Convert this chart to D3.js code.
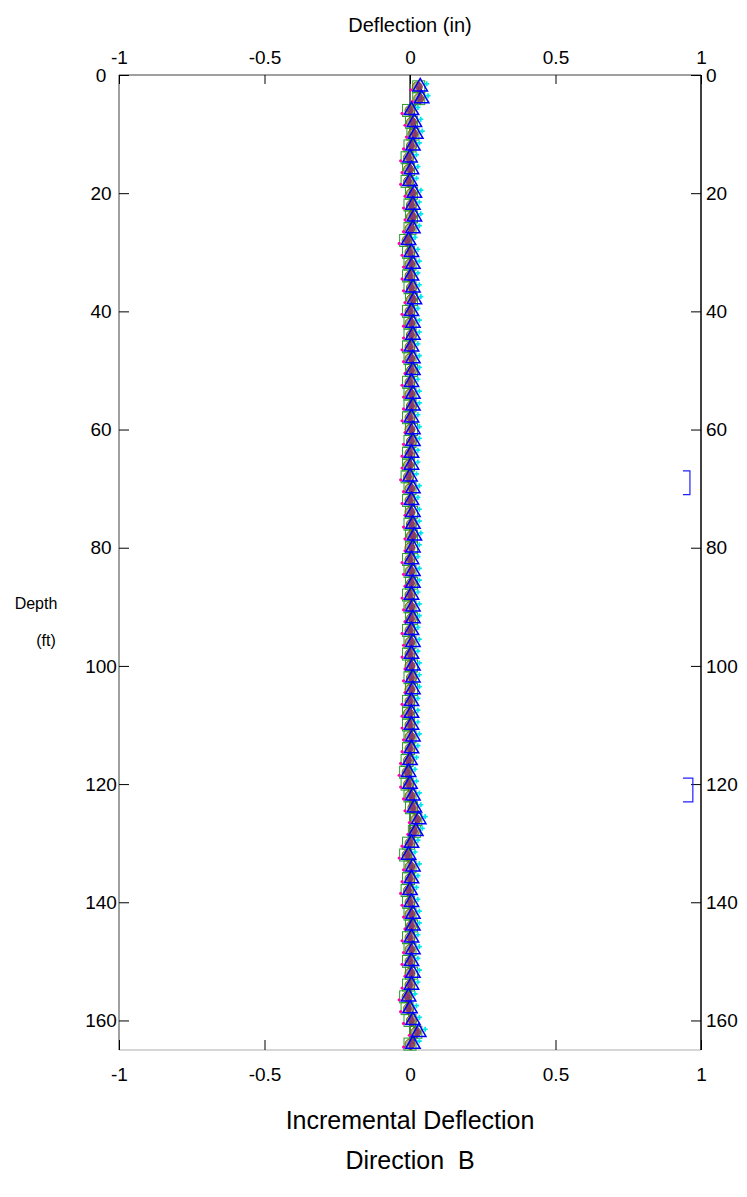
<!DOCTYPE html>
<html><head><meta charset="utf-8">
<script src="https://cdn.jsdelivr.net/npm/d3@7"></script>
<style>
body{margin:0;background:#fff;}
text{font-family:"Liberation Sans",Arial,sans-serif;fill:#000;white-space:pre;}
</style></head>
<body><svg id="c" width="747" height="1197"></svg>
<script>
const depths = d3.range(2, 165, 2); // 2..164 ft
const xTicks = [-1, -0.5, 0, 0.5, 1];
const yTicks = [0, 20, 40, 60, 80, 100, 120, 140, 160];
const xTickLabels = ["-1", "-0.5", "0", "0.5", "1"];

const serTriangle = [
 0.035,0.040,0.005,0.015,0.020,0.010,0.000,0.005,0.000,0.015,
 0.010,0.015,0.010,-0.005,0.005,0.010,0.005,0.010,0.015,0.005,
 0.010,0.010,0.005,0.010,0.010,0.005,0.010,0.010,0.005,0.010,
 0.010,0.005,0.005,0.000,0.010,0.005,0.010,0.010,0.015,0.010,
 0.005,0.010,0.010,0.005,0.010,0.010,0.005,0.010,0.005,0.010,
 0.010,0.010,0.005,0.005,0.005,0.010,0.005,0.000,-0.005,0.000,
 0.010,0.015,0.030,0.020,0.005,-0.005,0.010,0.005,0.000,0.005,
 0.010,0.010,0.005,0.010,0.005,0.010,0.005,-0.005,0.000,0.010,
 0.030,0.010];
const serSquare = [
 0.030,0.030,-0.005,0.005,0.010,0.000,-0.010,-0.005,-0.010,0.005,
 0.000,0.005,0.000,-0.015,-0.005,0.000,-0.005,0.000,0.005,-0.005,
 0.000,0.000,-0.005,0.000,0.005,-0.005,0.000,0.000,-0.005,0.005,
 0.000,-0.005,-0.005,-0.010,0.000,-0.005,0.005,0.000,0.005,0.005,
 -0.005,0.000,0.005,-0.005,0.000,0.005,-0.005,0.000,-0.005,0.005,
 0.000,0.005,-0.005,-0.005,-0.005,0.000,-0.005,-0.010,-0.015,-0.010,
 0.000,0.005,0.020,0.015,-0.005,-0.015,0.000,-0.005,-0.010,-0.005,
 0.000,0.005,-0.005,0.000,-0.005,0.005,-0.005,-0.015,-0.010,0.000,
 0.020,0.000];
const serMaroon = [
 0.030,0.035,0.000,0.010,0.015,0.005,-0.005,0.000,-0.005,0.010,
 0.005,0.010,0.005,-0.010,0.000,0.005,0.000,0.005,0.010,0.000,
 0.005,0.005,0.000,0.005,0.005,0.000,0.005,0.005,0.000,0.005,
 0.005,0.000,0.000,-0.005,0.005,0.000,0.005,0.005,0.010,0.005,
 0.000,0.005,0.005,0.000,0.005,0.005,0.000,0.005,0.000,0.005,
 0.005,0.005,0.000,0.000,0.000,0.005,0.000,-0.005,-0.010,-0.005,
 0.005,0.010,0.025,0.015,0.000,-0.010,0.005,0.000,-0.005,0.000,
 0.005,0.005,0.000,0.005,0.000,0.005,0.000,-0.010,-0.005,0.005,
 0.025,0.005];
const serOlive = [
 0.025,0.030,0.000,0.005,0.010,0.005,-0.005,-0.005,-0.005,0.005,
 0.005,0.005,0.000,-0.010,0.000,0.000,0.000,0.005,0.005,0.000,
 0.000,0.005,0.000,0.000,0.005,0.000,0.000,0.005,0.000,0.000,
 0.005,0.000,-0.005,-0.005,0.000,0.000,0.000,0.005,0.005,0.000,
 0.000,0.000,0.005,0.000,0.000,0.005,0.000,0.000,0.000,0.000,
 0.005,0.000,0.000,-0.005,0.000,0.000,0.000,-0.005,-0.010,-0.005,
 0.000,0.010,0.020,0.015,0.000,-0.010,0.000,0.000,-0.005,0.000,
 0.000,0.005,0.000,0.000,0.000,0.000,0.000,-0.010,-0.005,0.005,
 0.020,0.000];
const serMagenta = [
 0.020,0.025,-0.010,0.000,0.005,-0.005,-0.015,-0.010,-0.015,0.000,
 -0.005,0.000,-0.005,-0.020,-0.010,-0.005,-0.010,-0.005,0.000,-0.010,
 -0.005,-0.005,-0.010,-0.005,0.000,-0.010,-0.005,-0.005,-0.010,0.000,
 -0.005,-0.010,-0.010,-0.015,-0.005,-0.010,0.000,-0.005,0.000,0.000,
 -0.010,-0.005,0.000,-0.010,-0.005,0.000,-0.010,-0.005,-0.010,0.000,
 -0.005,0.000,-0.010,-0.010,-0.010,-0.005,-0.010,-0.015,-0.020,-0.015,
 -0.005,0.000,0.015,0.010,-0.010,-0.020,-0.005,-0.010,-0.015,-0.010,
 -0.005,0.000,-0.010,-0.005,-0.010,0.000,-0.010,-0.020,-0.015,-0.005,
 0.015,-0.005];
const serCyan = [
 0.040,0.045,0.010,0.020,0.025,0.015,0.005,0.010,0.005,0.020,
 0.015,0.020,0.015,0.000,0.010,0.015,0.010,0.015,0.020,0.010,
 0.015,0.015,0.010,0.015,0.015,0.010,0.015,0.015,0.010,0.015,
 0.015,0.010,0.010,0.005,0.015,0.010,0.015,0.015,0.020,0.015,
 0.010,0.015,0.015,0.010,0.015,0.015,0.010,0.015,0.010,0.015,
 0.015,0.015,0.010,0.010,0.010,0.015,0.010,0.005,0.000,0.005,
 0.015,0.020,0.035,0.025,0.010,0.000,0.015,0.010,0.005,0.010,
 0.015,0.015,0.010,0.015,0.010,0.015,0.010,0.000,0.005,0.015,
 0.035,0.015];
const refDepths = [0, 165];
const refValues = [0, 0];
const bracketTop = [67, 119];
const bracketBottom = [71, 123];
const bracketX = [0.962, 0.972];
const bracketArm = [0.024, 0.034];

const svg = d3.select("#c");
const L = 119, R = 701, T = 75, B = 1050;
const x = d3.scaleLinear().domain([-1, 1]).range([L, R]);
const y = d3.scaleLinear().domain([0, 165]).range([T, B]);

// frame lines
svg.append("line").attr("x1",L).attr("x2",R).attr("y1",T).attr("y2",T).attr("stroke","#808080").attr("stroke-width",1.5);
svg.append("line").attr("x1",L).attr("x2",R).attr("y1",B).attr("y2",B).attr("stroke","#c8c8c8").attr("stroke-width",1.5);
svg.append("line").attr("x1",L).attr("x2",L).attr("y1",T).attr("y2",B).attr("stroke","#808080").attr("stroke-width",1.5);
svg.append("line").attr("x1",R).attr("x2",R).attr("y1",T).attr("y2",B).attr("stroke","#000").attr("stroke-width",1.5);

function styleAxis(g){
  g.select(".domain").remove();
  g.selectAll(".tick line").attr("stroke","#000").attr("stroke-width",1);
  g.selectAll(".tick text").style("font-size","19px").attr("fill","#000");
}
const fmt = (d,i)=>xTickLabels[i];
svg.append("g").attr("transform",`translate(0,${T})`)
  .call(d3.axisTop(x).tickValues(xTicks).tickFormat(fmt).tickSize(-9).tickPadding(11)).call(styleAxis);
svg.append("g").attr("transform",`translate(0,${B})`)
  .call(d3.axisBottom(x).tickValues(xTicks).tickFormat(fmt).tickSize(-10).tickPadding(18)).call(styleAxis);
const gl = svg.append("g").attr("transform",`translate(${L},0)`)
  .call(d3.axisLeft(y).tickValues(yTicks).tickSize(-10).tickPadding(18)).call(styleAxis);
gl.selectAll(".tick text").attr("text-anchor","middle");
svg.append("g").attr("transform",`translate(${R},0)`)
  .call(d3.axisRight(y).tickValues(yTicks).tickSize(-10).tickPadding(5)).call(styleAxis);

// titles
svg.append("text").attr("x",410).attr("y",32).attr("text-anchor","middle").style("font-size","20px").text("Deflection (in)");
svg.append("text").attr("x",36).attr("y",609).attr("text-anchor","middle").style("font-size","16px").text("Depth");
svg.append("text").attr("x",46).attr("y",646).attr("text-anchor","middle").style("font-size","16px").text("(ft)");
svg.append("text").attr("x",410).attr("y",1129).attr("text-anchor","middle").style("font-size","25px").text("Incremental Deflection");
svg.append("text").attr("x",410).attr("y",1169).attr("text-anchor","middle").style("font-size","25px").text("Direction  B");

const plot = svg.append("g");
const pts = arr => arr.map((v,i)=>({v, d: depths[i]}));
const lineGen = d3.line().x(p=>x(p.v)).y(p=>y(p.d));

// reference line
plot.append("path").datum(refValues.map((v,i)=>({v,d:refDepths[i]})))
  .attr("d",lineGen).attr("fill","none").attr("stroke","#000").attr("stroke-width",1.2);

// series lines
[[serSquare,"#009900"],[serMaroon,"#800040"],[serOlive,"#808000"],[serTriangle,"#0000ff"]].forEach(([arr,c])=>{
  plot.append("path").datum(pts(arr)).attr("d",lineGen).attr("fill","none").attr("stroke",c).attr("stroke-width",1);
});

// green squares
plot.selectAll(".sq").data(pts(serSquare)).join("rect")
  .attr("x",p=>x(p.v)-6).attr("y",p=>y(p.d)-6).attr("width",12).attr("height",12)
  .attr("fill","none").attr("stroke","#2a9d2a").attr("stroke-width",1);
// olive circles
plot.selectAll(".ol").data(pts(serOlive)).join("circle")
  .attr("cx",p=>x(p.v)).attr("cy",p=>y(p.d)).attr("r",5)
  .attr("fill","#8f8f50").attr("fill-opacity",0.7).attr("stroke","#6f6f00").attr("stroke-width",1);
// maroon diamonds
plot.selectAll(".mr").data(pts(serMaroon)).join("path")
  .attr("transform",p=>`translate(${x(p.v)},${y(p.d)})`)
  .attr("d",d3.symbol().type(d3.symbolDiamond).size(50)())
  .attr("fill","#8a2a6a").attr("fill-opacity",0.8);
// magenta dots
plot.selectAll(".mg").data(pts(serMagenta)).join("circle")
  .attr("cx",p=>x(p.v)-5).attr("cy",p=>y(p.d)+3).attr("r",1.6).attr("fill","#ff00aa");
// cyan crosses
plot.selectAll(".cy").data(pts(serCyan)).join("path")
  .attr("transform",p=>`translate(${x(p.v)+5},${y(p.d)-3})`)
  .attr("d",d3.symbol().type(d3.symbolCross).size(14)())
  .attr("fill","#00e5e5");
// blue triangles
plot.selectAll(".tr").data(pts(serTriangle)).join("path")
  .attr("transform",p=>`translate(${x(p.v)},${y(p.d)})`)
  .attr("d",d3.symbol().type(d3.symbolTriangle).size(90)())
  .attr("fill","none").attr("stroke","#0000ff").attr("stroke-width",1.5);

// brackets on the right
bracketTop.forEach((t,i)=>{
  const b = bracketBottom[i], xr = x(bracketX[i]), xl = x(bracketX[i]-bracketArm[i]);
  plot.append("path")
    .attr("d",`M${xl},${y(t)}H${xr}V${y(b)}H${xl}`)
    .attr("fill","none").attr("stroke","#2020ff").attr("stroke-width",1.2);
});
</script></body></html>
